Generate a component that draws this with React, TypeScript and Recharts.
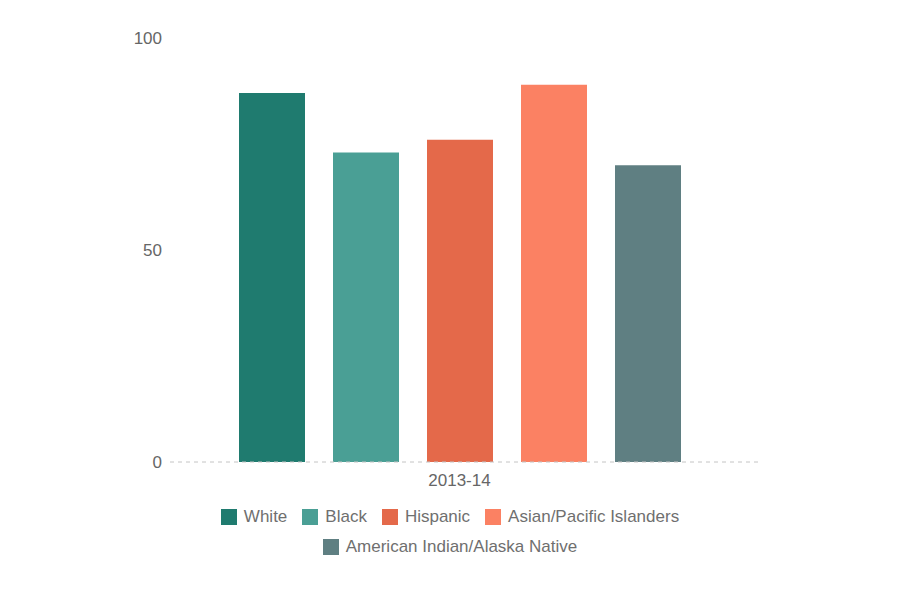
import { BarChart, Bar, XAxis, YAxis } from "recharts";

const categories = ["2013-14"];
const white = [87];
const black = [73];
const hispanic = [76];
const asian = [89];
const native = [70];
const yTicks = [0, 50, 100];

const series = [
  { key: "White", values: white, color: "#1f7b6f" },
  { key: "Black", values: black, color: "#4a9f95" },
  { key: "Hispanic", values: hispanic, color: "#e4694a" },
  { key: "Asian/Pacific Islanders", values: asian, color: "#fb8163" },
  { key: "American Indian/Alaska Native", values: native, color: "#5f7f82" },
];

const data = categories.map((name, i) => {
  const row: Record<string, string | number> = { name };
  series.forEach((s) => (row[s.key] = s.values[i]));
  return row;
});

const FONT = "'Liberation Sans', Arial, sans-serif";

// legend drawn as plain html under the chart, two rows like the original
const ChartLegend = () => (
  <div
    style={{
      position: "absolute",
      left: 200,
      top: 508,
      width: 500,
      display: "flex",
      flexWrap: "wrap",
      justifyContent: "center",
      rowGap: 12,
      columnGap: 15,
      fontFamily: FONT,
      fontSize: 17,
      color: "#6f6f6f",
      lineHeight: "18px",
    }}
  >
    {series.map((s) => (
      <div key={s.key} style={{ display: "flex", alignItems: "center" }}>
        <span
          style={{
            display: "inline-block",
            width: 16,
            height: 16,
            background: s.color,
            marginRight: 7,
          }}
        />
        <span>{s.key}</span>
      </div>
    ))}
  </div>
);

export default function App() {
  return (
    <div style={{ position: "fixed", left: 0, top: 0, width: 900, height: 597, background: "#fff" }}>
      <BarChart
        width={900}
        height={597}
        data={data}
        margin={{ top: 38, right: 140, bottom: 105, left: 0 }}
        barSize={66}
        barGap={28}
      >
        <XAxis
          dataKey="name"
          padding={{ left: 0, right: 11 }}
          tickLine={false}
          tickMargin={6}
          axisLine={{ stroke: "#c4c4c4", strokeDasharray: "4 4" }}
          tick={{ fill: "#666", fontSize: 17, fontFamily: FONT }}
          height={30}
        />
        <YAxis
          domain={[0, 100]}
          ticks={yTicks}
          width={170}
          axisLine={false}
          tickLine={false}
          tick={{ fill: "#666", fontSize: 17, fontFamily: FONT }}
        />
        {series.map((s) => (
          <Bar key={s.key} dataKey={s.key} fill={s.color} isAnimationActive={false} />
        ))}
      </BarChart>
      <ChartLegend />
    </div>
  );
}
